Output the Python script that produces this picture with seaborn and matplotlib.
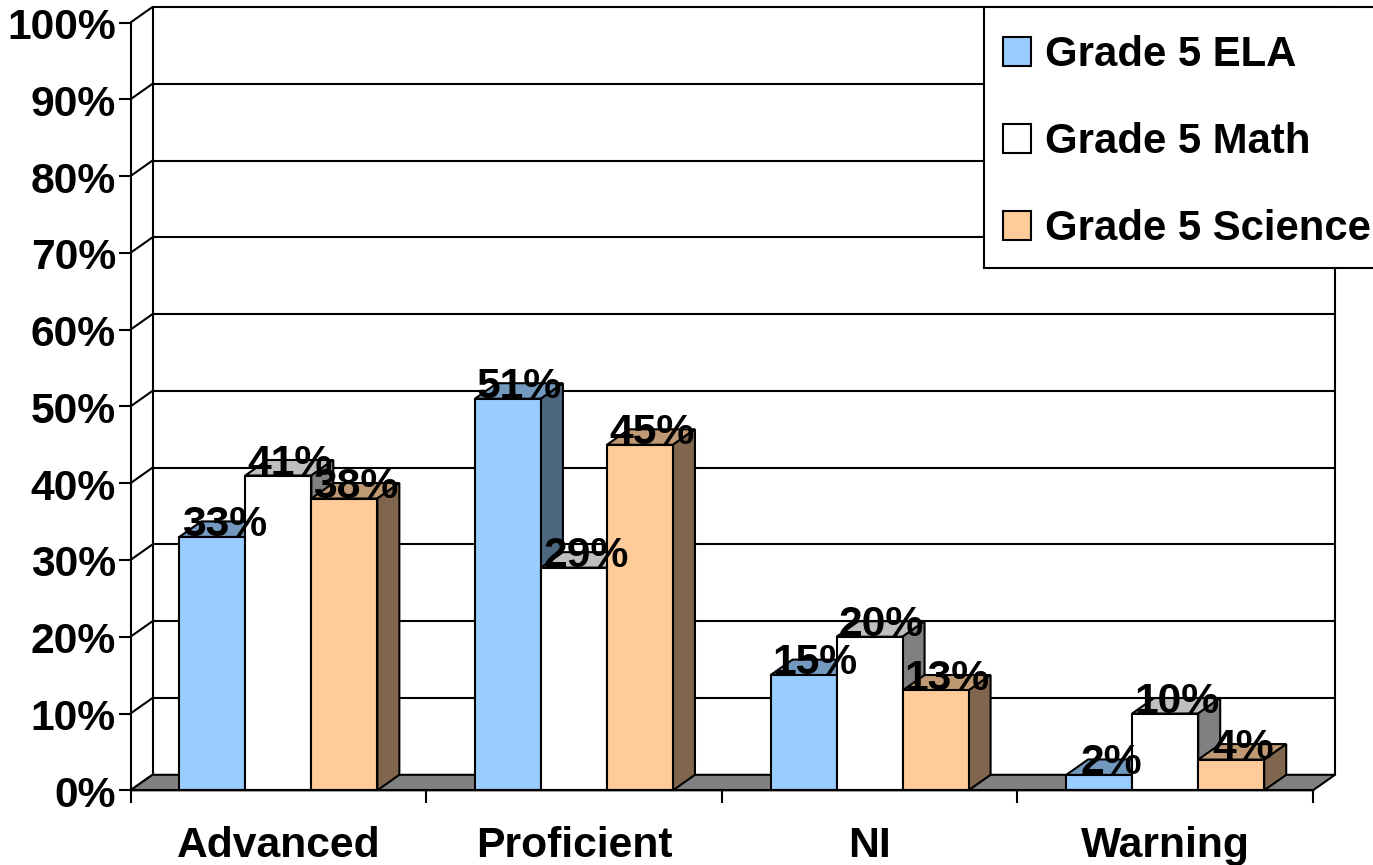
import matplotlib
matplotlib.use("Agg")
import matplotlib.pyplot as plt
from matplotlib.patches import Polygon, Rectangle
from matplotlib.colors import to_rgb
from matplotlib.transforms import ScaledTranslation
import pandas as pd
import seaborn as sns

# values
categories = ["Advanced", "Proficient", "NI", "Warning"]
series_names = ["Grade 5 ELA", "Grade 5 Math", "Grade 5 Science"]
ela = [33, 51, 15, 2]
math_scores = [41, 29, 20, 10]
science = [38, 45, 13, 4]
y_ticks = [0, 10, 20, 30, 40, 50, 60, 70, 80, 90, 100]
colors = ["#99CCFF", "#FFFFFF", "#FFCC99"]

W, H = 1373, 865
LW = 1.5
FONT = 30.7

sns.set_style("white")
plt.rcParams["font.family"] = ["Liberation Sans", "DejaVu Sans"]
plt.rcParams["font.weight"] = "bold"
plt.rcParams["text.color"] = "black"
plt.rcParams["xtick.labelcolor"] = "black"
plt.rcParams["ytick.labelcolor"] = "black"

df = pd.DataFrame({
    "category": categories * 3,
    "series": [s for s in series_names for _ in categories],
    "value": ela + math_scores + science,
})

fig = plt.figure(figsize=(W / 100, H / 100), dpi=100)
ax = fig.add_axes([130.5 / W, 1 - 790.3 / H, (1313 - 130.5) / W, (790.3 - 22.5) / H])

sns.barplot(data=df, x="category", y="value", hue="series", order=categories,
            hue_order=series_names, palette=colors, saturation=1, width=0.67,
            gap=0, edgecolor="black", linewidth=LW, errorbar=None, ax=ax)

ax.set_xlim(-0.5, 3.5)
ax.set_ylim(0, 100)

# depth of the fake 3D box, in data units
dx = 22 / ((1313 - 130.5) / 4)
dy = 15.5 / ((790.3 - 22.5) / 100)


def shade(color, f):
    return tuple(c * f for c in to_rgb(color))


# back wall, side wall and floor
for y in y_ticks[1:]:
    ax.plot([-0.5 + dx, 3.5 + dx], [y + dy, y + dy], color="black", lw=LW, zorder=1, clip_on=False)
for y in y_ticks:
    ax.plot([-0.5, -0.5 + dx], [y, y + dy], color="black", lw=LW, zorder=1, clip_on=False)
ax.plot([-0.5 + dx, -0.5 + dx], [dy, 100 + dy], color="black", lw=LW, zorder=1, clip_on=False)
ax.plot([3.5 + dx, 3.5 + dx], [dy, 100 + dy], color="black", lw=LW, zorder=1, clip_on=False)
ax.add_patch(Polygon([(-0.5, 0), (3.5, 0), (3.5 + dx, dy), (-0.5 + dx, dy)], closed=True,
                     facecolor="#808080", edgecolor="black", lw=LW, zorder=1.5, clip_on=False))

# top and side faces for every bar, then the value label
for i, container in enumerate(ax.containers):
    z = 3 + i
    for bar in container:
        x0 = bar.get_x()
        x1 = x0 + bar.get_width()
        h = bar.get_height()
        bar.set_zorder(z + 0.5)
        ax.add_patch(Polygon([(x0, h), (x1, h), (x1 + dx, h + dy), (x0 + dx, h + dy)], closed=True,
                             facecolor=shade(colors[i], 0.75), edgecolor="black", lw=LW,
                             zorder=z, clip_on=False))
        ax.add_patch(Polygon([(x1, 0), (x1 + dx, dy), (x1 + dx, h + dy), (x1, h)], closed=True,
                             facecolor=shade(colors[i], 0.5), edgecolor="black", lw=LW,
                             zorder=z, clip_on=False))
        ax.annotate(f"{h:.0f}%", xy=((x0 + x1) / 2, h), xytext=(8.5, 0.5), textcoords="offset points",
                    ha="center", va="baseline", fontsize=FONT, fontweight="bold", color="black",
                    zorder=10, annotation_clip=False)

# axes
for side in ["top", "right"]:
    ax.spines[side].set_visible(False)
for side in ["left", "bottom"]:
    ax.spines[side].set_color("black")
    ax.spines[side].set_linewidth(LW)
    ax.spines[side].set_zorder(8)

ax.set_xlabel("")
ax.set_ylabel("")
ax.set_yticks(y_ticks)
ax.set_yticklabels([f"{t}%" for t in y_ticks], fontsize=FONT, fontweight="bold", color="black")
ax.set_xticks(range(len(categories)))
ax.set_xticklabels(categories, fontsize=FONT, fontweight="bold", color="black")
ax.set_xticks([-0.5, 0.5, 1.5, 2.5, 3.5], minor=True)
ax.tick_params(axis="y", which="major", left=True, length=9, width=LW, color="black", pad=1.5)
ax.tick_params(axis="x", which="major", bottom=False, pad=22)
ax.tick_params(axis="x", which="minor", bottom=True, length=9, width=LW, color="black")

# y labels sit a little below their ticks in the original
for label in ax.get_yticklabels():
    label.set_transform(label.get_transform() + ScaledTranslation(0, -1 / 100, fig.dpi_scale_trans))

# legend, its frame runs off the right edge like the original
ax.add_patch(Rectangle((984 / W, 1 - 268 / H), 420 / W, 261 / H, transform=fig.transFigure,
                       facecolor="white", edgecolor="black", lw=LW, zorder=19, clip_on=False))
handles, labels = ax.get_legend_handles_labels()
ax.get_legend().remove()
leg = ax.legend(handles, labels, loc="center left", bbox_to_anchor=(1003 / W, 1 - 142 / H),
                bbox_transform=fig.transFigure, frameon=False, borderpad=0,
                borderaxespad=0, handlelength=0.67, handleheight=0.69, handletextpad=0.32,
                labelspacing=1.12, labelcolor="black", prop={"size": 30.2, "weight": "bold"})
leg.set_zorder(20)

fig.savefig("out.png", dpi=100)
